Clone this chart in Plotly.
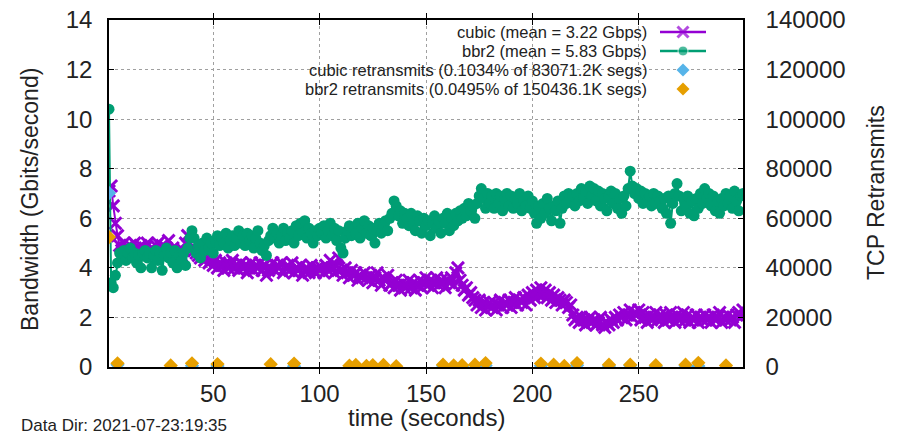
import plotly.graph_objects as go

# ---- throughput samples (Gbits/second), one per second ----
time_s = list(range(1, 300))

cubic_gbps = [
    7.1, 7.3, 6.5, 5.8, 5.3, 4.9, 4.7, 5.0, 4.8, 4.6, 4.9, 4.7, 5.0, 4.6, 4.8, 4.9, 4.6, 4.8, 5.0, 4.7,
    4.8, 4.6, 4.9, 5.0, 4.7, 4.9, 4.6, 4.8, 5.1, 4.7, 4.8, 4.5, 4.4, 4.6, 4.5, 4.7, 5.0, 5.3, 5.0, 4.8,
    4.7, 4.6, 4.5, 4.4, 4.5, 4.3, 4.4, 4.2, 4.3, 4.1, 4.3, 4.0, 4.2, 4.1, 3.9, 4.2, 4.0, 4.1, 4.3, 4.0,
    4.1, 3.9, 4.2, 4.0, 4.1, 3.8, 4.0, 4.2, 3.9, 4.1, 4.0, 4.2, 3.9, 4.1, 3.7, 3.9, 4.0, 4.2, 3.9, 4.1,
    4.0, 4.2, 3.8, 4.0, 4.1, 3.9, 4.2, 3.8, 4.0, 3.9, 4.1, 3.7, 3.9, 4.0, 3.8, 4.1, 3.9, 3.8, 4.0, 3.9,
    4.0, 3.8, 4.1, 3.9, 4.3, 4.0, 3.8, 4.1, 4.4, 3.9, 3.7, 4.0, 3.8, 3.6, 3.9, 3.7, 3.8, 3.5, 3.7, 3.6,
    3.8, 3.6, 3.5, 3.7, 3.4, 3.6, 3.8, 3.5, 3.3, 3.6, 3.5, 3.7, 3.3, 3.4, 3.2, 3.5, 3.3, 3.1, 3.4, 3.2,
    3.3, 3.5, 3.2, 3.4, 3.1, 3.3, 3.5, 3.2, 3.4, 3.6, 3.3, 3.5, 3.2, 3.4, 3.6, 3.3, 3.5, 3.4, 3.2, 3.5,
    3.4, 3.6, 3.3, 3.8, 4.0, 3.5, 3.3, 3.1, 3.2, 2.9, 3.0, 2.8, 2.7, 2.5, 2.7, 2.4, 2.6, 2.3, 2.5, 2.6,
    2.4, 2.6, 2.3, 2.5, 2.7, 2.4, 2.6, 2.5, 2.7, 2.4, 2.6, 2.8, 2.5, 2.7, 2.6, 2.8, 2.5, 2.9, 2.7, 3.0,
    2.8, 3.1, 2.9, 3.2, 2.9, 3.1, 2.8, 3.0, 2.7, 2.9, 2.6, 2.8, 2.7, 2.5, 2.7, 2.6, 2.4, 2.5, 2.1, 1.9,
    2.0, 1.8, 2.0, 1.9, 1.7, 1.9, 2.0, 1.8, 1.9, 1.7, 1.8, 2.0, 1.7, 1.6, 1.8, 1.7, 1.9, 1.8, 2.0, 1.9,
    2.1, 2.0, 2.2, 1.9, 2.1, 2.3, 2.0, 2.2, 2.1, 2.3, 1.9, 2.2, 2.0, 1.8, 2.1, 1.9, 2.0, 2.2, 1.9, 2.1,
    2.0, 1.8, 2.1, 1.9, 2.2, 2.0, 1.8, 2.1, 1.9, 2.0, 2.2, 1.9, 2.1, 1.8, 2.0, 1.9, 2.1, 1.8, 2.0, 1.9,
    2.1, 1.9, 2.0, 1.8, 2.1, 1.9, 2.0, 2.2, 1.8, 2.0, 1.9, 2.1, 1.9, 2.0, 1.8, 2.1, 2.2, 2.0, 2.3,
]

bbr2_gbps = [
    10.4, 3.4, 3.2, 3.7, 4.2, 4.6, 4.4, 4.7, 4.3, 4.6, 4.8, 4.4, 4.6, 4.2, 4.5, 4.0, 4.6, 4.7, 4.4, 4.6,
    4.0, 4.5, 4.7, 4.3, 4.6, 3.9, 4.5, 4.8, 4.4, 4.6, 4.2, 4.7, 4.0, 4.5, 4.3, 4.6, 4.1, 4.8, 5.2, 5.5,
    5.2, 4.6, 4.9, 4.4, 5.0, 4.7, 5.2, 4.8, 5.0, 4.6, 5.1, 5.3, 4.9, 5.2, 5.0, 5.4, 4.8, 5.1, 5.3, 4.9,
    5.2, 5.5, 5.0, 5.3, 4.9, 5.4, 5.1, 5.3, 4.8, 5.2, 5.5, 5.0, 4.7, 4.9, 4.5, 5.1, 5.3, 5.6, 5.2, 5.4,
    5.0, 5.3, 5.6, 5.1, 5.4, 5.2, 5.5, 5.0, 5.7, 5.3, 5.8, 5.4, 5.9, 5.2, 5.6, 5.4, 5.0, 5.5, 5.3, 5.6,
    5.4, 5.7, 5.2, 5.5, 5.8, 5.3, 5.6, 5.1, 5.5, 4.8, 4.6, 5.2, 5.5, 5.7, 5.3, 5.6, 5.4, 5.8, 5.2, 5.6,
    5.9, 5.4, 5.7, 5.3, 5.6, 5.0, 5.5, 5.8, 5.4, 5.7, 5.9, 5.5, 6.0, 6.2, 6.7, 6.5, 6.1, 6.3, 5.8, 6.2,
    6.0, 5.7, 6.2, 5.8, 5.5, 6.1, 5.9, 5.4, 6.0, 5.7, 5.9, 5.3, 5.8, 6.1, 5.6, 5.9, 5.4, 6.0, 5.8, 6.2,
    5.5, 6.0, 5.7, 6.2, 5.9, 6.3, 6.0, 6.4, 6.1, 6.6, 6.3, 6.5, 6.0, 6.6, 6.9, 7.2, 6.8, 6.4, 7.0, 6.6,
    6.9, 6.4, 7.0, 6.6, 6.9, 6.3, 6.8, 7.0, 6.5, 6.9, 6.4, 6.8, 6.6, 7.0, 6.3, 6.7, 6.5, 6.9, 6.4, 6.7,
    6.2, 5.8, 6.5, 6.0, 6.6, 6.2, 6.8, 6.4, 5.9, 6.5, 6.3, 6.7, 5.8, 6.4, 6.9, 6.6, 7.0, 6.7, 6.9, 6.5,
    7.0, 6.7, 7.2, 6.8, 7.1, 6.6, 7.3, 6.9, 7.2, 6.7, 7.1, 6.5, 7.0, 6.8, 6.3, 6.9, 7.1, 6.6, 7.0, 6.4,
    6.8, 6.2, 6.9, 6.5, 7.2, 7.9, 7.3, 7.0, 7.2, 6.8, 7.1, 6.6, 7.0, 6.7, 6.9, 6.5, 7.0, 6.6, 6.9, 6.7,
    6.4, 6.8, 6.2, 6.9, 5.8, 6.6, 7.0, 7.4, 6.9, 6.3, 6.8, 6.5, 6.9, 6.2, 6.7, 6.1, 6.8, 6.4, 7.0, 6.6,
    7.2, 6.8, 7.0, 6.5, 6.9, 6.3, 6.7, 6.2, 6.8, 6.5, 7.0, 6.6, 6.9, 6.4, 7.1, 6.7, 6.3, 6.9, 7.0,
]

# ---- TCP retransmits (right axis) ----
cubic_retx_t = [1, 5, 40, 52, 88, 125, 158, 167, 178, 204, 221, 236, 246, 258, 272, 278]
cubic_retx = [70200, 900, 500, 400, 300, 400, 500, 300, 600, 500, 700, 400, 600, 300, 500, 400]

bbr2_retx_t = [1, 5, 30, 40, 52, 77, 88, 114, 117, 122, 125, 130, 136, 158,
               163, 167, 173, 178, 204, 210, 215, 221, 236, 246, 258, 272, 278, 291]
bbr2_retx = [52400, 1500, 600, 1500, 1200, 1100, 1400, 500, 800, 400, 700, 800, 300, 900,
             600, 700, 900, 1600, 1400, 900, 400, 1600, 900, 900, 700, 900, 1700, 600]

# ---- key labels ----
key_labels = [
    "cubic (mean = 3.22 Gbps)",
    "bbr2 (mean = 5.83 Gbps)",
    "cubic retransmits (0.1034% of 83071.2K segs)",
    "bbr2 retransmits (0.0495% of 150436.1K segs)",
]
data_dir_label = "Data Dir: 2021-07-23:19:35"

PURPLE = "#9400d3"
GREEN = "#009e73"
SKY = "#56b4e9"
ORANGE = "#e69f00"
FONT = "Liberation Sans, Arial, sans-serif"
TXT = "#222222"

# plot area in page pixels
L, R, T, B = 109, 743, 20, 367
W, H = 900, 436

fig = go.Figure()

fig.add_trace(go.Scatter(
    x=time_s, y=cubic_gbps, mode="lines+markers",
    line=dict(color=PURPLE, width=2),
    marker=dict(symbol="x-thin", size=12, line=dict(color=PURPLE, width=3)),
))
fig.add_trace(go.Scatter(
    x=time_s, y=bbr2_gbps, mode="lines+markers",
    line=dict(color=GREEN, width=2),
    marker=dict(symbol="circle", size=11, color=GREEN),
))
fig.add_trace(go.Scatter(
    x=cubic_retx_t, y=cubic_retx, mode="markers", yaxis="y2",
    marker=dict(symbol="diamond", size=11, color=SKY),
))
fig.add_trace(go.Scatter(
    x=bbr2_retx_t, y=bbr2_retx, mode="markers", yaxis="y2",
    marker=dict(symbol="diamond", size=11, color=ORANGE),
))

# key samples drawn on a hidden pixel-space overlay
key_rows = [32, 51, 70, 89]
kx = [660, 683, 706]
fig.add_trace(go.Scatter(
    x=kx, y=[key_rows[0]] * 3, xaxis="x3", yaxis="y3", mode="lines+markers",
    line=dict(color=PURPLE, width=2.5),
    marker=dict(symbol="x-thin", size=[0, 11, 0], line=dict(color=PURPLE, width=3)),
))
fig.add_trace(go.Scatter(
    x=kx, y=[key_rows[1]] * 3, xaxis="x3", yaxis="y3", mode="lines+markers",
    line=dict(color=GREEN, width=2.5),
    marker=dict(symbol="circle", size=[0, 10, 0], color=GREEN),
))
fig.add_trace(go.Scatter(
    x=[kx[1]], y=[key_rows[2]], xaxis="x3", yaxis="y3", mode="markers",
    marker=dict(symbol="diamond", size=10, color=SKY),
))
fig.add_trace(go.Scatter(
    x=[kx[1]], y=[key_rows[3]], xaxis="x3", yaxis="y3", mode="markers",
    marker=dict(symbol="diamond", size=10, color=ORANGE),
))

annotations = []
for label, row in zip(key_labels, key_rows):
    annotations.append(dict(
        text=label, x=648, y=row, xref="x3", yref="y3",
        xanchor="right", yanchor="middle", showarrow=False,
        height=18, borderpad=0,
        font=dict(family=FONT, size=16.5, color=TXT),
    ))


def px_to_paper(px, py):
    return (px - L) / (R - L), (B - py) / (B - T)


ax, ay = px_to_paper(426, 418)
annotations.append(dict(text="time (seconds)", x=ax, y=ay, xref="paper", yref="paper",
                        xanchor="center", yanchor="middle", showarrow=False,
                        font=dict(family=FONT, size=24, color=TXT)))
ax, ay = px_to_paper(30, 200)
annotations.append(dict(text="Bandwidth (Gbits/second)", x=ax, y=ay, xref="paper", yref="paper",
                        xanchor="center", yanchor="middle", showarrow=False, textangle=-90,
                        font=dict(family=FONT, size=23, color=TXT)))
ax, ay = px_to_paper(876, 193)
annotations.append(dict(text="TCP Retransmits", x=ax, y=ay, xref="paper", yref="paper",
                        xanchor="center", yanchor="middle", showarrow=False, textangle=-90,
                        font=dict(family=FONT, size=23, color=TXT)))
ax, ay = px_to_paper(19, 425)
annotations.append(dict(text=data_dir_label, x=ax, y=ay, xref="paper", yref="paper",
                        xanchor="left", yanchor="middle", showarrow=False,
                        font=dict(family=FONT, size=17, color=TXT)))

grid = dict(showgrid=True, gridcolor="#a0a0a0", gridwidth=1, griddash="dot")

fig.update_layout(
    width=W, height=H,
    margin=dict(l=L, r=W - R, t=T, b=H - B, autoexpand=False),
    paper_bgcolor="white", plot_bgcolor="white",
    showlegend=False,
    font=dict(family=FONT, color=TXT),
    xaxis=dict(
        range=[1, 299], tickvals=[50, 100, 150, 200, 250],
        ticks="inside", ticklen=5, tickcolor="black", mirror="allticks",
        showline=True, linecolor="black", linewidth=1.5, zeroline=False,
        tickfont=dict(size=24, color=TXT), ticklabelstandoff=4, **grid,
    ),
    yaxis=dict(
        range=[0, 14], tickvals=list(range(0, 15, 2)),
        ticks="inside", ticklen=5, tickcolor="black",
        showline=True, linecolor="black", linewidth=1.5, zeroline=False,
        tickfont=dict(size=24, color=TXT), ticklabelstandoff=10, **grid,
    ),
    yaxis2=dict(
        overlaying="y", side="right", range=[0, 140000],
        tickvals=list(range(0, 140001, 20000)), tickformat="d",
        ticks="inside", ticklen=5, tickcolor="black",
        showline=True, linecolor="black", linewidth=1.5, zeroline=False,
        showgrid=False, tickfont=dict(size=24, color=TXT), ticklabelstandoff=16,
    ),
    xaxis3=dict(overlaying="x", range=[L, R], visible=False, fixedrange=True),
    yaxis3=dict(overlaying="y", range=[B, T], visible=False, fixedrange=True),
    annotations=annotations,
)

fig.write_html("out.html")
